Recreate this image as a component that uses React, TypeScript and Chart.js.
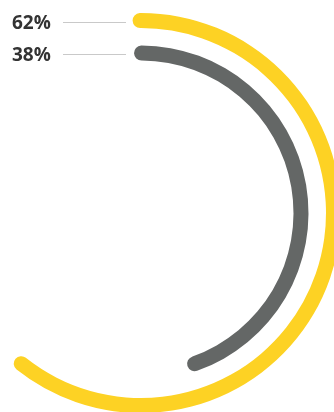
import React, { useEffect, useRef } from "react";
import { Chart, registerables } from "chart.js";

Chart.register(...registerables);

// Values shown as labels
const seriesLabels = ["62%", "38%"];
// Portion of the full circle each arc covers (in %)
const arcSweep = [62, 46];
const arcColors = ["#FDD224", "#646766"];

const leaderPlugin = {
  id: "leaders",
  afterDatasetsDraw(chart: any) {
    const ctx = chart.ctx;
    const idx = [0, 2];
    ctx.save();
    ctx.strokeStyle = "#c9c9c9";
    ctx.lineWidth = 1;
    idx.forEach((i) => {
      const meta = chart.getDatasetMeta(i);
      const arc = meta.data[0];
      if (!arc) return;
      const cx = arc.x;
      const cy = arc.y;
      const r = (meta.controller.outerRadius + meta.controller.innerRadius) / 2;
      const y = Math.round(cy - r) + 1.5;
      ctx.beginPath();
      ctx.moveTo(cx - 78, y);
      ctx.lineTo(cx - 15, y);
      ctx.stroke();
    });
    ctx.restore();
  },
};

export default function App() {
  const ref = useRef<HTMLCanvasElement>(null);
  useEffect(() => {
    if (!ref.current) return;
    const round = (c: any) => (c.dataIndex === 0 ? 8 : 0);
    const chart = new Chart(ref.current, {
      type: "doughnut",
      data: {
        labels: ["value", "rest"],
        datasets: [
          {
            data: [arcSweep[0], 100 - arcSweep[0]],
            backgroundColor: [arcColors[0], "rgba(0,0,0,0)"],
            borderWidth: 0,
            borderRadius: round,
            weight: 15,
          } as any,
          {
            data: [100],
            backgroundColor: ["rgba(0,0,0,0)"],
            borderWidth: 0,
            weight: 17.5,
          } as any,
          {
            data: [arcSweep[1], 100 - arcSweep[1]],
            backgroundColor: [arcColors[1], "rgba(0,0,0,0)"],
            borderWidth: 0,
            borderRadius: round,
            weight: 15,
          } as any,
        ],
      },
      options: {
        responsive: false,
        animation: false,
        events: [],
        cutout: "76.25%",
        rotation: -2.5,
        layout: { padding: 0 },
        plugins: { legend: { display: false }, tooltip: { enabled: false } },
      } as any,
      plugins: [leaderPlugin],
    });
    return () => chart.destroy();
  }, []);

  const labelStyle = (top: number): React.CSSProperties => ({
    position: "absolute",
    left: 12,
    top,
    fontFamily: "'Open Sans', sans-serif",
    fontWeight: 700,
    fontSize: 19,
    lineHeight: "19px",
    color: "#333333",
    whiteSpace: "nowrap",
  });

  return (
    <div
      style={{
        position: "absolute",
        left: 0,
        top: 0,
        width: 334,
        height: 412,
        overflow: "hidden",
        background: "#ffffff",
      }}
    >
      <canvas
        ref={ref}
        width={400}
        height={400}
        style={{ position: "absolute", left: -59, top: 13, width: 400, height: 400 }}
      />
      <div style={labelStyle(13)}>{seriesLabels[0]}</div>
      <div style={labelStyle(45)}>{seriesLabels[1]}</div>
    </div>
  );
}
